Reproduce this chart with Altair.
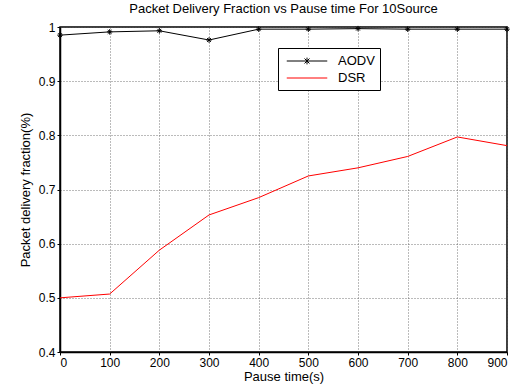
import altair as alt
import pandas as pd

pause = [0, 100, 200, 300, 400, 500, 600, 700, 800, 900]
aodv = [0.985, 0.991, 0.993, 0.976, 0.996, 0.996, 0.997, 0.996, 0.996, 0.996]
dsr = [0.500, 0.507, 0.588, 0.653, 0.685, 0.725, 0.740, 0.761, 0.797, 0.781]
series_names = ["AODV", "DSR"]
series_colors = ["black", "red"]

df = pd.DataFrame({
    "pause": pause * 2,
    "pdf": aodv + dsr,
    "series": ["AODV"] * len(pause) + ["DSR"] * len(pause),
})

star = "M-1,0L1,0M0,-1L0,1M-0.7,-0.7L0.7,0.7M-0.7,0.7L0.7,-0.7"
leg_star = "M-2.7,0L2.7,0M0,-0.45L0,0.45M-0.33,-0.33L0.33,0.33M-0.33,0.33L0.33,-0.33"
leg_line = "M-2.7,0L2.7,0"

font = "Liberation Sans"

x = alt.X("pause:Q", scale=alt.Scale(domain=[0, 900], nice=False),
          axis=alt.Axis(values=pause, title="Pause time(s)", format="d"))
y = alt.Y("pdf:Q", scale=alt.Scale(domain=[0.4, 1.0], nice=False),
          axis=alt.Axis(values=[0.4, 0.5, 0.6, 0.7, 0.8, 0.9, 1.0], format="~g",
                        title="Packet delivery fraction(%)"))
cscale = alt.Scale(domain=series_names, range=series_colors)

legend = alt.Legend(
    title=None, orient="none", legendX=218, legendY=21,
    symbolSize=225, symbolStrokeWidth=1, symbolOpacity=1,
    symbolOffset=16, labelOffset=23,
    labelFontSize=13, labelFont=font, labelColor="black",
    strokeColor="black", fillColor="white", padding=5,
    rowPadding=2,
)

lines = alt.Chart(df).mark_line(strokeWidth=1).encode(
    x=x, y=y, color=alt.Color("series:N", scale=cscale, legend=legend))
points = alt.Chart(df).transform_filter("datum.series === 'AODV'").mark_point(
    shape=star, size=30, filled=False, strokeWidth=1, opacity=1
).encode(x=x, y=y, color=alt.Color("series:N", scale=cscale, legend=legend))
leg = alt.Chart(df).mark_point(filled=False, opacity=0, size=1).encode(
    x=x, y=y,
    color=alt.Color("series:N", scale=cscale, legend=legend),
    shape=alt.Shape("series:N", scale=alt.Scale(domain=series_names, range=[leg_star, leg_line]),
                    legend=legend),
)

chart = alt.layer(lines, points, leg).properties(
    width=447, height=325,
    title=alt.TitleParams("Packet Delivery Fraction vs Pause time For 10Source",
                          fontSize=13, fontWeight="normal", font=font, offset=5, color="black"),
    autosize=alt.AutoSizeParams(type="none"),
    padding={"left": 60, "top": 27, "right": 6, "bottom": 35},
).configure_axis(
    labelFont=font, titleFont=font, labelFontSize=12, titleFontSize=13,
    labelColor="black", titleColor="black", titleFontWeight="normal",
    domainColor="black", domainWidth=1.5, tickColor="black", tickSize=3,
    gridColor="#555555", gridDash=[1, 2], gridWidth=1, gridOpacity=0.8,
    labelPadding=2,
).configure_axisX(titlePadding=2).configure_axisY(titlePadding=6).configure_view(
    stroke="black", strokeWidth=1.5
)

chart.save("out.html", embed_options={"renderer": "svg", "actions": False})
